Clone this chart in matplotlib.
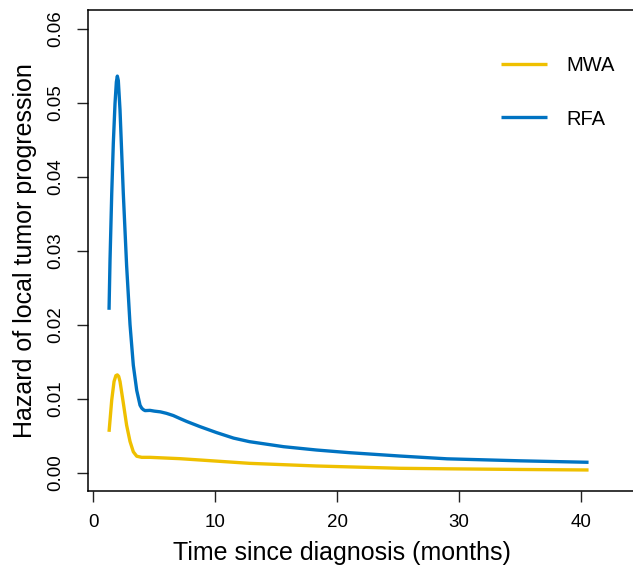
import matplotlib
matplotlib.use("Agg")
import matplotlib.pyplot as plt

plt.rcParams['font.family'] = ['Liberation Sans', 'DejaVu Sans']

# RFA hazard curve
rfa_t = [1.29, 1.37, 1.51, 1.64, 1.78, 1.89, 1.97, 2.05, 2.19, 2.46, 2.73, 3.01, 3.28,
         3.56, 3.83, 3.97, 4.10, 4.24, 4.65, 5.0, 5.5, 6.0, 6.56, 7.1, 7.66, 8.75, 10.1,
         11.5, 12.8, 15.6, 18.3, 21.0, 25.1, 29.0, 35.0, 40.6]
rfa_h = [0.0220, 0.0287, 0.0377, 0.0445, 0.0499, 0.0528, 0.0536, 0.0530, 0.0490, 0.0377,
         0.0280, 0.0200, 0.0145, 0.0111, 0.0091, 0.0087, 0.0085, 0.00837, 0.0084, 0.0083,
         0.0082, 0.0080, 0.0077, 0.0073, 0.0069, 0.0062, 0.0054, 0.00465, 0.00417,
         0.00349, 0.00304, 0.00268, 0.00223, 0.00185, 0.00158, 0.00138]

# MWA hazard curve
mwa_t = [1.29, 1.51, 1.70, 1.85, 1.97, 2.08, 2.19, 2.46, 2.73, 3.01, 3.28, 3.56, 3.97,
         4.65, 7.1, 8.75, 12.8, 18.3, 25.1, 29.0, 35.0, 40.6]
mwa_h = [0.0055, 0.0098, 0.0123, 0.0131, 0.0132, 0.0130, 0.0123, 0.0094, 0.0064, 0.0042,
         0.0028, 0.0022, 0.00205, 0.00205, 0.00187, 0.00169, 0.00124, 0.00088, 0.00057,
         0.00050, 0.00041, 0.00034]

series_names = ["MWA", "RFA"]
colors = ["#EFC000", "#0073C2"]
x_ticks = [0, 10, 20, 30, 40]
y_ticks = [0.00, 0.01, 0.02, 0.03, 0.04, 0.05, 0.06]
y_ticklabels = ["0.00", "0.01", "0.02", "0.03", "0.04", "0.05", "0.06"]

fig = plt.figure(figsize=(6.33, 5.68), dpi=100)
ax = fig.add_axes([0.1395, 0.1361, 0.8905, 0.8458])

ax.plot(mwa_t, mwa_h, color=colors[0], lw=2.4, label=series_names[0],
        solid_capstyle='butt', solid_joinstyle='round')
ax.plot(rfa_t, rfa_h, color=colors[1], lw=2.4, label=series_names[1],
        solid_capstyle='butt', solid_joinstyle='round')

ax.set_xlim(-0.41, 45.8)
ax.set_ylim(-0.00246, 0.0625)

ax.set_xticks(x_ticks)
ax.set_xticklabels([str(v) for v in x_ticks])
ax.set_yticks(y_ticks)
ax.set_yticklabels(y_ticklabels, rotation=90, va='center')

ax.tick_params(axis='both', direction='out', length=8, width=1.0, labelsize=13.5,
               color='#222222', pad=9)
for s in ax.spines.values():
    s.set_linewidth(1.1)

ax.set_xlabel("Time since diagnosis (months)", fontsize=18)
ax.xaxis.set_label_coords(0.45, -0.105)
ax.set_ylabel("Hazard of local tumor progression", fontsize=18, labelpad=8)

leg = ax.legend(loc='upper left', bbox_to_anchor=(0.7, 0.942), frameon=False,
                fontsize=14.5, handlelength=2.3, handletextpad=0.95, labelspacing=1.7)

fig.savefig("out.png", dpi=100)
